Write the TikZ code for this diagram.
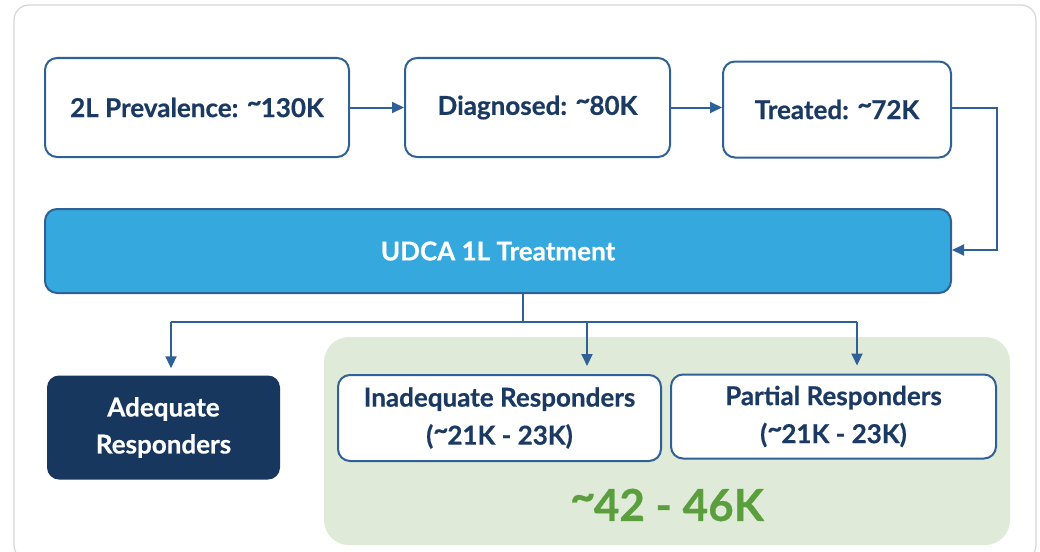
\documentclass[tikz,border=0pt]{standalone}
\usepackage{fontspec}
\setmainfont{Lato}[BoldFeatures={FakeBold=0.6}]
\usetikzlibrary{arrows.meta}
\definecolor{navy}{HTML}{1A3A63}
\definecolor{edge}{HTML}{2F6196}
\definecolor{udca}{HTML}{35A8DE}
\definecolor{dark}{HTML}{17375F}
\definecolor{greenbg}{HTML}{DFEAD8}
\definecolor{greentxt}{HTML}{5A9E3E}
\definecolor{frame}{HTML}{D6D6D6}
\newcommand{\tld}{\raisebox{0.22em}{\textasciitilde}\kern-0.04em}
\tikzset{
  wbox/.style={draw=edge, line width=2pt, fill=white, rounded corners=12pt, text=navy, font=\fontsize{26}{38}\selectfont\bfseries, align=center, inner sep=0pt},
  arr/.style={draw=edge, line width=2pt, -{Triangle[length=12pt,width=11pt]}},
  ln/.style={draw=edge, line width=2pt},
}
\begin{document}
\begin{tikzpicture}[x=1pt,y=-1pt]
\useasboundingbox (0,0) rectangle (1040,551);
\draw[frame, line width=1.2pt, rounded corners=15pt, fill=white] (14,5) rectangle (1036,560);
% top row
\node[wbox, minimum width=304pt, minimum height=99pt] (prev) at (197,107.5) {2L Prevalence: \tld130K};
\node[wbox, minimum width=265pt, minimum height=99pt] (diag) at (537.5,107.5) {Diagnosed: \tld80K};
\node[wbox, minimum width=228pt, minimum height=96pt] (treat) at (837,109.5) {Treated: \tld72K};
% UDCA
\node[draw=edge, line width=2pt, fill=udca, rounded corners=12pt, text=white, font=\fontsize{26}{30}\selectfont\bfseries, minimum width=906pt, minimum height=84pt, inner sep=0pt] (udca) at (498,251) {UDCA 1L Treatment};
% green group
\node[fill=greenbg, rounded corners=25pt, minimum width=686pt, minimum height=208pt, inner sep=0pt] (grp) at (667,441) {};
\node[text=greentxt, font=\fontsize{44}{50}\selectfont\bfseries, inner sep=0pt] (tot) at (667,505) {\tld42 - 46K};
% responders
\node[fill=dark, rounded corners=12pt, text=white, font=\fontsize{26}{37}\selectfont\bfseries, align=center, minimum width=233pt, minimum height=104pt, inner sep=0pt] (adeq) at (163.5,427.5) {Adequate\\Responders};
\node[wbox, minimum width=323pt, minimum height=86pt] (inad) at (499.5,418) {Inadequate Responders\\(\tld21K - 23K)};
\node[wbox, minimum width=325pt, minimum height=84pt] (part) at (833.5,416.5) {Partial Responders\\(\tld21K - 23K)};
% connectors
\draw[arr] (prev.east) -- (diag.west);
\draw[arr] (diag.east) -- (diag.east -| treat.west);
\coordinate (rt) at (997,108);
\coordinate (rb) at (997,250);
\draw[arr] (treat.east |- rt) -- (rt) -- (rb) -- (udca.east |- rb);
\coordinate (tr) at (523,322);
\coordinate (ja) at (171,322);
\coordinate (ji) at (587,322);
\coordinate (jp) at (857,322);
\draw[ln] (udca.south -| tr) -- (tr);
\draw[ln] (ja) -- (jp);
\draw[arr, shorten >=7pt] (ja) -- (ja |- adeq.north);
\draw[arr, shorten >=8pt] (ji) -- (ji |- inad.north);
\draw[arr, shorten >=8pt] (jp) -- (jp |- part.north);
\end{tikzpicture}
\end{document}
